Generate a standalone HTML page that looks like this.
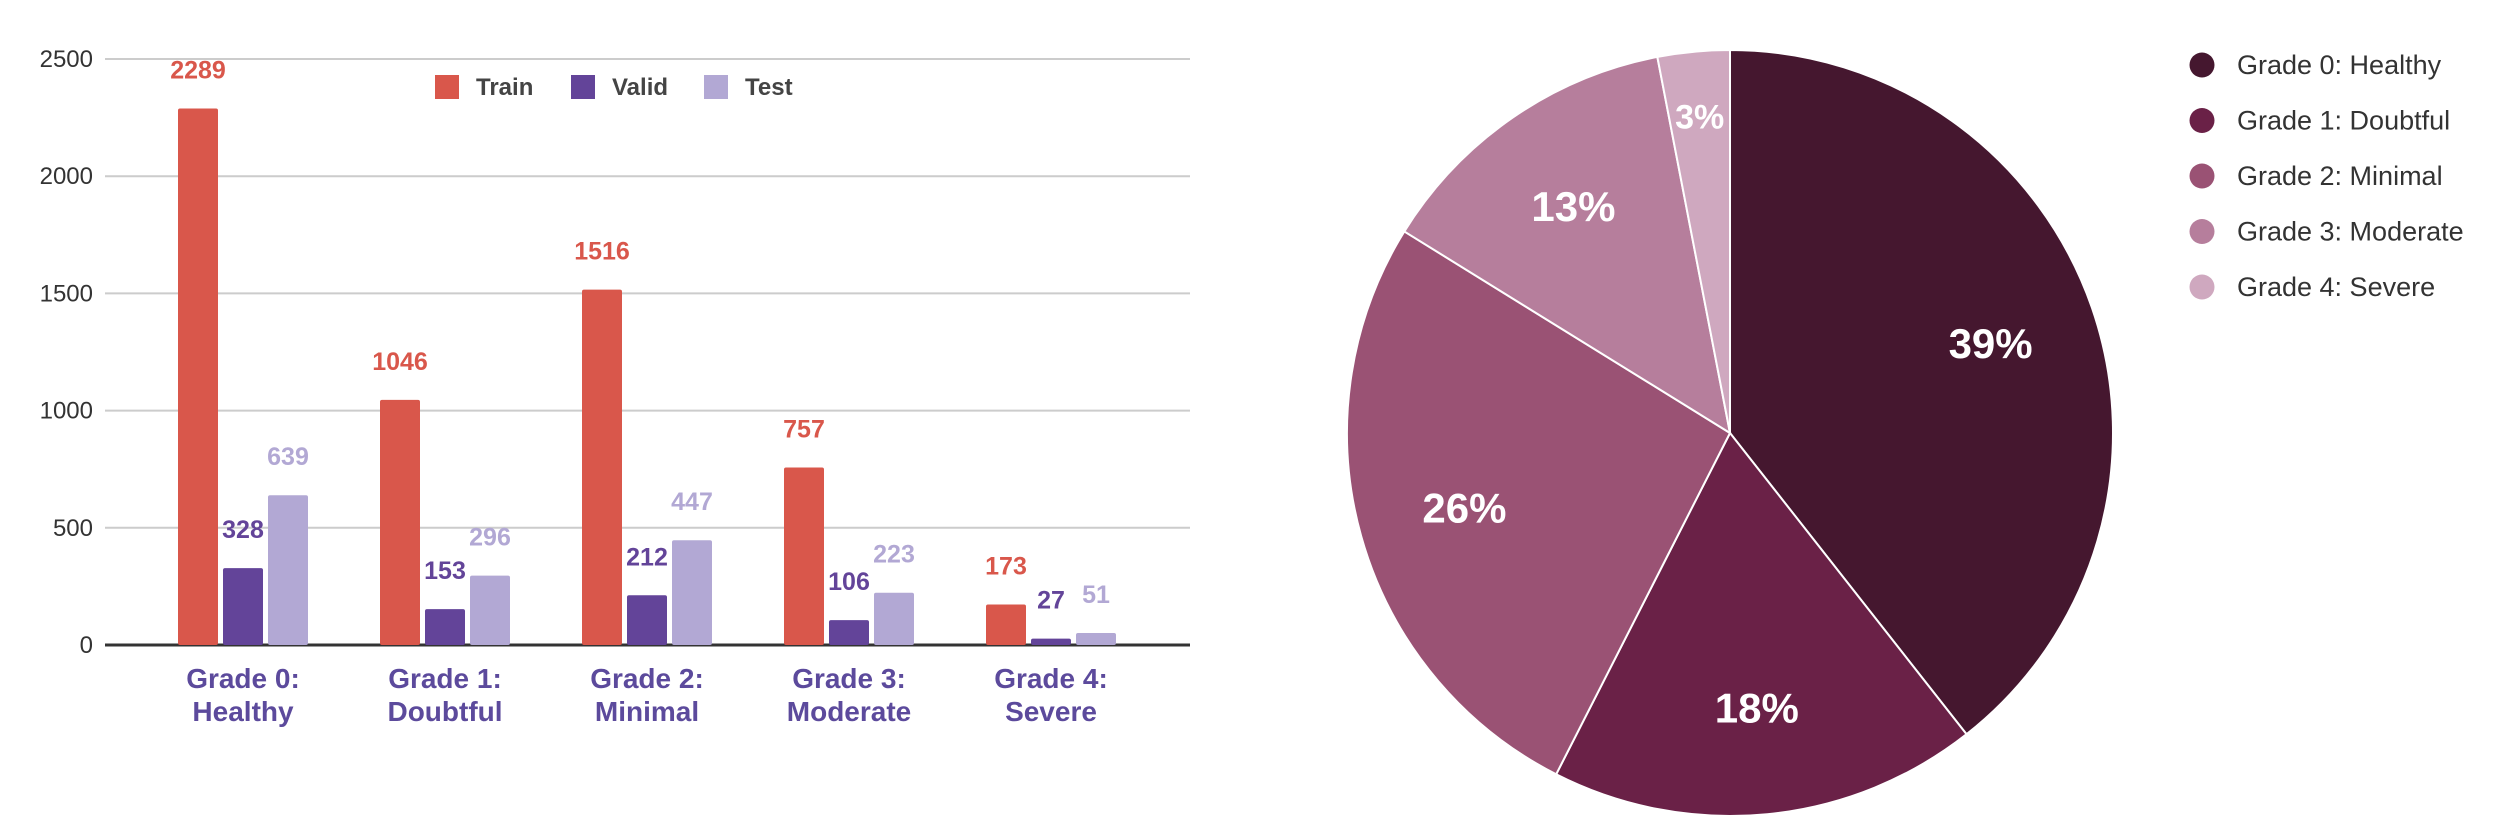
<!DOCTYPE html>
<html><head><meta charset="utf-8"><style>
html,body{margin:0;padding:0;background:#fff;}
svg{display:block;font-family:"Liberation Sans",Arial,sans-serif;}
</style></head><body>
<svg id="chart" width="2510" height="838" viewBox="0 0 2510 838">
<g id="bar"></g>
<g id="pie"></g>
</svg>
<script>
const categories = ["Grade 0: Healthy","Grade 1: Doubtful","Grade 2: Minimal","Grade 3: Moderate","Grade 4: Severe"];
const catLine1 = ["Grade 0:","Grade 1:","Grade 2:","Grade 3:","Grade 4:"];
const catLine2 = ["Healthy","Doubtful","Minimal","Moderate","Severe"];
const trainVals = [2289,1046,1516,757,173];
const validVals = [328,153,212,106,27];
const testVals = [639,296,447,223,51];
const yTicks = [0,500,1000,1500,2000,2500];
const seriesNames = ["Train","Valid","Test"];
const seriesColors = ["#d9574b","#634499","#b2a8d4"];
const pieColors = ["#45172f","#6a2147","#9a5274","#b67e9c","#cfa8bf"];

const NS="http://www.w3.org/2000/svg";
function mk(tag,attrs,parent,text){const e=document.createElementNS(NS,tag);for(const k in attrs)e.setAttribute(k,attrs[k]);if(text!==undefined)e.textContent=text;parent.appendChild(e);return e;}

// bar chart
const bar=document.getElementById('bar');
const x0=105,x1=1190,yTop=59,yBot=645,yMax=2500;
const y=v=>yBot-(v/yMax)*(yBot-yTop);
const groupStart=243,groupStep=202;
const gx=i=>groupStart+groupStep*i;
yTicks.forEach(t=>{
  const l=mk('line',{x1:x0,x2:x1,y1:y(t),y2:y(t),stroke:t===0?'#333':'#ccc','stroke-width':t===0?3:2},bar);
  
  
  const tx=mk('text',{x:93,y:y(t)+8,'text-anchor':'end','font-size':24,fill:'#333'},bar,String(t));
  
  
});
const allSeries=[trainVals,validVals,testVals];
const bw=40,gap=5;
categories.forEach((c,i)=>{
  allSeries.forEach((vals,s)=>{
    const bx=gx(i)+(s-1)*(bw+gap)-bw/2;
    const r=mk('rect',{x:bx,y:y(vals[i]),width:bw,height:yBot-y(vals[i]),fill:seriesColors[s],rx:2},bar);
    
    
    const t=mk('text',{x:bx+bw/2,y:y(vals[i])-30,'text-anchor':'middle','font-size':25,'font-weight':'bold',fill:seriesColors[s]},bar,String(vals[i]));
    
    
  });
  const l1=mk('text',{x:gx(i),y:688,'text-anchor':'middle','font-size':28,'font-weight':'bold',fill:'#5c4a9c'},bar,catLine1[i]);
  
  
  const l2=mk('text',{x:gx(i),y:721,'text-anchor':'middle','font-size':28,'font-weight':'bold',fill:'#5c4a9c'},bar,catLine2[i]);
  
  
});
const legX=[435,571,704];
seriesNames.forEach((n,s)=>{
  const r=mk('rect',{x:legX[s],y:75,width:24,height:24,fill:seriesColors[s]},bar);
  
  
  const t=mk('text',{x:legX[s]+41,y:95,'font-size':24,'font-weight':'bold',fill:'#444'},bar,n);
  
  
});

// pie chart
const pie=document.getElementById('pie');
const cx=1730,cy=433,R=383;
const totals=categories.map((c,i)=>trainVals[i]+validVals[i]+testVals[i]);
const sum=totals.reduce((a,b)=>a+b,0);
let acc=0;
const pt=(a,r)=>[cx+r*Math.sin(a),cy-r*Math.cos(a)];
totals.forEach((v,i)=>{
  const a0=acc/sum*2*Math.PI; acc+=v; const a1=acc/sum*2*Math.PI;
  const p0=pt(a0,R),p1=pt(a1,R);
  const large=(a1-a0)>Math.PI?1:0;
  const p=mk('path',{d:`M${cx},${cy}L${p0[0]},${p0[1]}A${R},${R} 0 ${large} 1 ${p1[0]},${p1[1]}Z`,fill:pieColors[i],stroke:'#fff','stroke-width':2},pie);
  
  
  const frac=v/sum, am=(a0+a1)/2;
  const lp=pt(am,frac<0.05?R*0.83:R*0.72);
  const small=frac<0.05;
  const t=mk('text',{x:lp[0],y:lp[1]+(small?12:15),'text-anchor':'middle','font-size':small?34:42,'font-weight':'bold',fill:'#fff'},pie,Math.round(frac*100)+'%');
  
  
});
categories.forEach((c,i)=>{
  const ly=65+i*55.5;
  const d=mk('circle',{cx:2202,cy:ly,r:12.5,fill:pieColors[i]},pie);
  
  
  const t=mk('text',{x:2237,y:ly+9,'font-size':27,fill:'#333'},pie,c);
  
  
});
</script>
</body></html>
